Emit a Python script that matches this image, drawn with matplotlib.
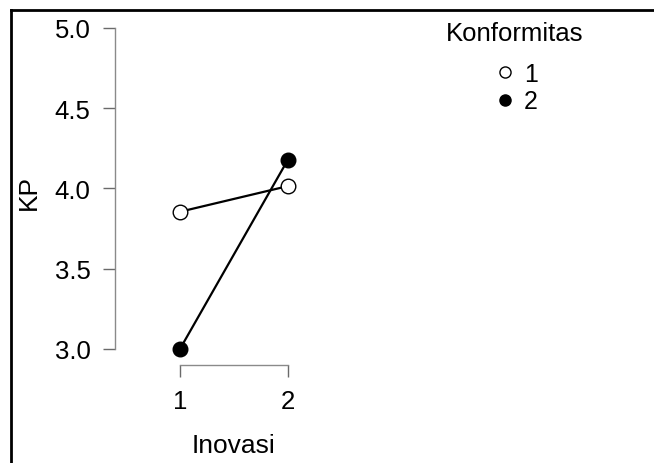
import matplotlib
matplotlib.use("Agg")
import matplotlib.pyplot as plt
from matplotlib.lines import Line2D

plt.rcParams['font.family'] = ['Liberation Sans', 'DejaVu Sans']

# Datos del gráfico de interacción
inovasi = [1, 2]
grupos = ["1", "2"]
kp_konf1 = [3.855, 4.015]
kp_konf2 = [3.00, 4.18]
yticks = [3.0, 3.5, 4.0, 4.5, 5.0]

W, H = 654, 464
fig = plt.figure(figsize=(W / 100, H / 100), dpi=100)

# ejes colocados en píxeles
x0, x1 = 115, 400
y_top, y_bot = 29, 366
ax = fig.add_axes([x0 / W, (H - y_bot) / H, (x1 - x0) / W, (y_bot - y_top) / H])

px_por_x = 108.0
ax.set_xlim(1 - (180 - x0) / px_por_x, 1 + (x1 - 180) / px_por_x)
ax.set_ylim(2.9, 5.0)

ax.plot(inovasi, kp_konf1, color="black", lw=1.6, marker="o", ms=10.5,
        mfc="white", mec="black", mew=1.0, zorder=3)
ax.plot(inovasi, kp_konf2, color="black", lw=1.6, marker="o", ms=10.5,
        mfc="black", mec="black", mew=1.0, zorder=4)

for lado in ["top", "right"]:
    ax.spines[lado].set_visible(False)
ax.spines["left"].set_bounds(3.0, 5.0)
ax.spines["bottom"].set_bounds(1, 2)
for lado in ["left", "bottom"]:
    ax.spines[lado].set_color("#8a8a8a")
    ax.spines[lado].set_linewidth(1.0)

ax.set_yticks(yticks)
ax.set_yticklabels([f"{v:.1f}" for v in yticks])
ax.set_xticks(inovasi)
ax.set_xticklabels([str(v) for v in inovasi])
ax.tick_params(axis="both", direction="out", length=8.6, width=1.0,
               color="#6a6a6a", labelsize=18.5, pad=9, labelcolor="black")

ax.set_ylabel("KP", fontsize=19)
ax.yaxis.set_label_coords((41 - x0) / (x1 - x0), (y_bot - 193) / (y_bot - y_top))
ax.set_xlabel("Inovasi", fontsize=19)
ax.xaxis.set_label_coords((234 - x0) / (x1 - x0), (y_bot - 434) / (y_bot - y_top))

# leyenda: título aparte para controlar la separación
fig.text(515 / W, 1 - 34 / H, "Konformitas", fontsize=18.5, ha="center", va="center")
h1 = Line2D([], [], ls="none", marker="o", ms=8, mfc="white", mec="black", mew=1.0)
h2 = Line2D([], [], ls="none", marker="o", ms=8, mfc="black", mec="black", mew=1.0)
leg = fig.legend([h1, h2], grupos, loc="upper left",
                 bbox_to_anchor=(490 / W, 1 - 55 / H), frameon=False,
                 fontsize=18, handlelength=0.6, borderaxespad=0,
                 handletextpad=0.45, labelspacing=0.15, borderpad=0.3)

# borde superior e izquierdo
fig.add_artist(Line2D([10.5 / W, 1], [1 - 11 / H, 1 - 11 / H], color="black", lw=2.0))
fig.add_artist(Line2D([10.5 / W, 10.5 / W], [0, 1 - 11 / H], color="black", lw=2.0))

fig.savefig("out.png", dpi=100)
